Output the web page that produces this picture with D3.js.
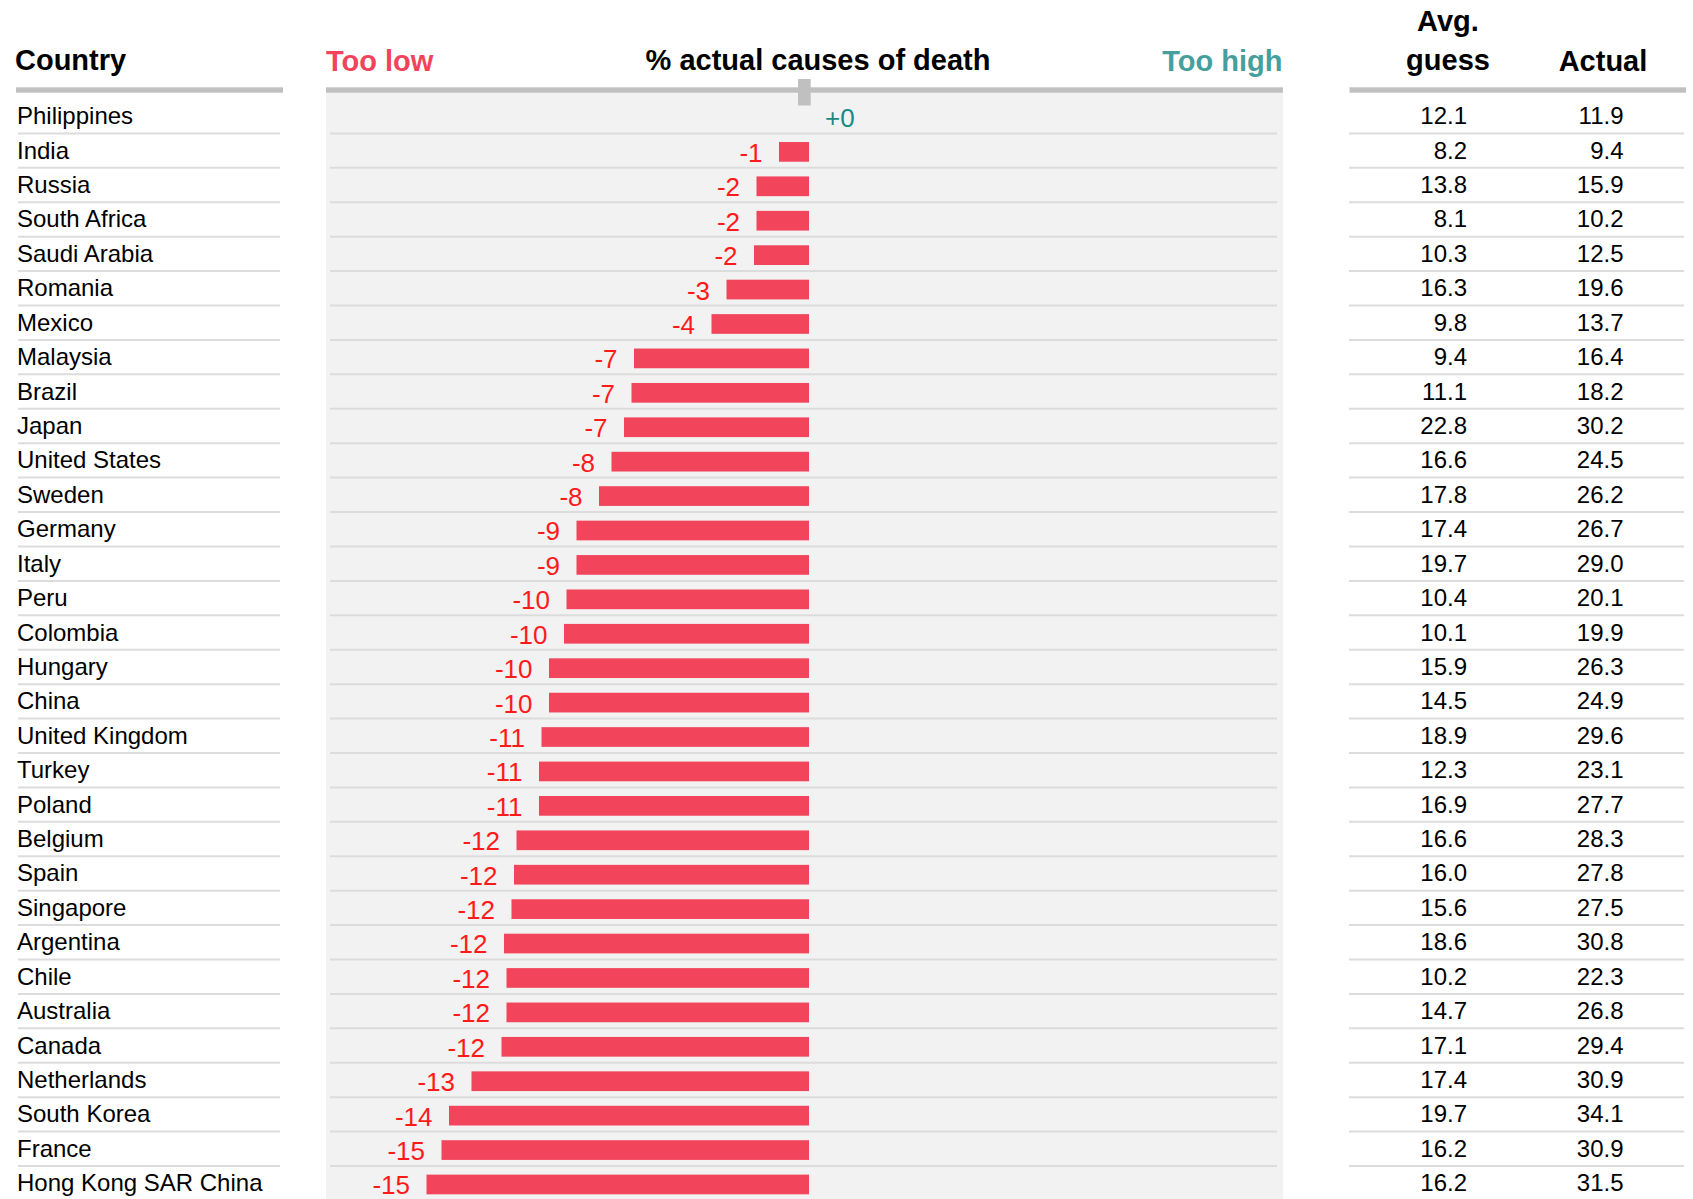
<!DOCTYPE html>
<html>
<head>
<meta charset="utf-8">
<script src="https://cdn.jsdelivr.net/npm/d3@7"></script>
<style>
  html, body { margin: 0; padding: 0; background: #ffffff; }
  svg text { font-family: "Liberation Sans", Arial, Helvetica, sans-serif; }
</style>
</head>
<body>
<svg id="chart" width="1693" height="1199"></svg>
<script>
// ---- Data ----
const countries = ["Philippines","India","Russia","South Africa","Saudi Arabia","Romania","Mexico","Malaysia","Brazil","Japan","United States","Sweden","Germany","Italy","Peru","Colombia","Hungary","China","United Kingdom","Turkey","Poland","Belgium","Spain","Singapore","Argentina","Chile","Australia","Canada","Netherlands","South Korea","France","Hong Kong SAR China"];
const avgGuess = [12.1,8.2,13.8,8.1,10.3,16.3,9.8,9.4,11.1,22.8,16.6,17.8,17.4,19.7,10.4,10.1,15.9,14.5,18.9,12.3,16.9,16.6,16.0,15.6,18.6,10.2,14.7,17.1,17.4,19.7,16.2,16.2];
const actual = [11.9,9.4,15.9,10.2,12.5,19.6,13.7,16.4,18.2,30.2,24.5,26.2,26.7,29.0,20.1,19.9,26.3,24.9,29.6,23.1,27.7,28.3,27.8,27.5,30.8,22.3,26.8,29.4,30.9,34.1,30.9,31.5];
// bar values (difference, percentage points)
const difference = [0,-1.2,-2.1,-2.1,-2.2,-3.3,-3.9,-7.0,-7.1,-7.4,-7.9,-8.4,-9.3,-9.3,-9.7,-9.8,-10.4,-10.4,-10.7,-10.8,-10.8,-11.7,-11.8,-11.9,-12.2,-12.1,-12.1,-12.3,-13.5,-14.4,-14.7,-15.3];
const xDomain = [-20, 20];

// ---- Styles ----
const COL_BAR = "#f2445a";
const COL_NEG_LABEL = "#ff1a1a";
const COL_POS_LABEL = "#158a87";
const COL_TOO_LOW = "#f2435a";
const COL_TOO_HIGH = "#45a09d";
const COL_RULE = "#c0c0c0";
const COL_SEP = "#dcdcdc";
const COL_PANEL = "#f2f2f2";

const svg = d3.select("#chart");
const W = 1693, H = 1199;

const rows = countries.map((c, i) => ({ country: c, guess: avgGuess[i], actual: actual[i], diff: difference[i] }));

const y = d3.scaleBand().domain(countries).range([99, 99 + 34.42 * countries.length]).padding(0);
const bw = y.bandwidth();
const cy = c => y(c) + bw / 2;

const zeroX = 809;
const x = d3.scaleLinear().domain(xDomain).range([zeroX - 500, zeroX + 500]);

// column geometry
const leftCol = { x0: 16, x1: 283, sep0: 18, sep1: 280, text: 17 };
const mid = { x0: 326, x1: 1283, sep0: 330, sep1: 1277 };
const right = { x0: 1349.5, x1: 1686, sep0: 1349, sep1: 1684, guessX: 1467, actualX: 1623.5, guessC: 1448, actualC: 1603 };

// middle panel background
svg.append("rect").attr("x", mid.x0).attr("y", 92).attr("width", mid.x1 - mid.x0).attr("height", H - 92).attr("fill", COL_PANEL);

// header rules
[leftCol, mid, right].forEach(c => {
  svg.append("rect").attr("x", c.x0).attr("y", 87.3).attr("width", c.x1 - c.x0).attr("height", 5.4).attr("fill", COL_RULE);
});

// zero tick
svg.append("rect").attr("x", x(0) - 11).attr("y", 79).attr("width", 12.7).attr("height", 26.5).attr("fill", COL_RULE);

// header text
const hdr = svg.append("g").attr("font-weight", "bold").attr("font-size", 29);
hdr.append("text").attr("x", 15).attr("y", 70).attr("fill", "#000").text("Country");
hdr.append("text").attr("x", mid.x0).attr("y", 70.5).attr("fill", COL_TOO_LOW).text("Too low");
hdr.append("text").attr("x", 818).attr("y", 70).attr("text-anchor", "middle").attr("fill", "#000").text("% actual causes of death");
hdr.append("text").attr("x", 1282.5).attr("y", 70.5).attr("text-anchor", "end").attr("fill", COL_TOO_HIGH).text("Too high");
hdr.append("text").attr("x", right.guessC).attr("y", 30.5).attr("text-anchor", "middle").attr("fill", "#000").text("Avg.");
hdr.append("text").attr("x", right.guessC).attr("y", 70).attr("text-anchor", "middle").attr("fill", "#000").text("guess");
hdr.append("text").attr("x", right.actualC).attr("y", 70.5).attr("text-anchor", "middle").attr("fill", "#000").text("Actual");

// row separators
const sepG = svg.append("g");
[leftCol, mid, right].forEach(c => {
  sepG.selectAll(null).data(rows).join("line")
    .attr("x1", c.sep0).attr("x2", c.sep1)
    .attr("y1", d => y(d.country) + bw).attr("y2", d => y(d.country) + bw)
    .attr("stroke", COL_SEP).attr("stroke-width", 2);
});

// country names
svg.append("g").selectAll("text").data(rows).join("text")
  .attr("x", leftCol.text).attr("y", d => cy(d.country) + 8)
  .attr("font-size", 24).attr("fill", "#000").text(d => d.country);

// bars
svg.append("g").selectAll("rect").data(rows.filter(d => d.diff !== 0)).join("rect")
  .attr("x", d => x(Math.min(0, d.diff)))
  .attr("width", d => Math.abs(x(d.diff) - x(0)))
  .attr("y", d => cy(d.country) - 8.6)
  .attr("height", 19.7)
  .attr("fill", COL_BAR);

// bar labels
const fmt = v => (v >= 0 ? "+" : "") + Math.round(v);
svg.append("g").selectAll("text").data(rows).join("text")
  .attr("x", d => d.diff < 0 ? x(d.diff) - 16.5 : x(d.diff) + 16)
  .attr("y", d => cy(d.country) + 11.2)
  .attr("text-anchor", d => d.diff < 0 ? "end" : "start")
  .attr("font-size", 26)
  .attr("fill", d => d.diff < 0 ? COL_NEG_LABEL : COL_POS_LABEL)
  .text(d => fmt(d.diff));

// table values
const vf = d3.format(".1f");
svg.append("g").selectAll("text").data(rows).join("text")
  .attr("x", right.guessX).attr("y", d => cy(d.country) + 8)
  .attr("text-anchor", "end").attr("font-size", 24).attr("fill", "#000")
  .text(d => vf(d.guess));
svg.append("g").selectAll("text").data(rows).join("text")
  .attr("x", right.actualX).attr("y", d => cy(d.country) + 8)
  .attr("text-anchor", "end").attr("font-size", 24).attr("fill", "#000")
  .text(d => vf(d.actual));
</script>
</body>
</html>
